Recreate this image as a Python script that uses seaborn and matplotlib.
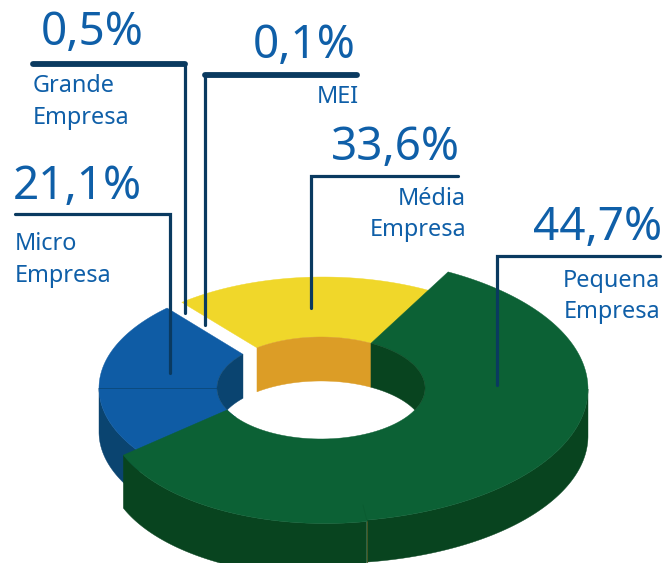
import numpy as np
import pandas as pd
import matplotlib
matplotlib.use("Agg")
import matplotlib.pyplot as plt
import seaborn as sns

# ── Data ───────────────────────────────────────────────────────
categories = ["Grande\nEmpresa", "MEI", "Média\nEmpresa", "Micro\nEmpresa", "Pequena\nEmpresa"]
shares = [0.5, 0.1, 33.6, 21.1, 44.7]

# slice extents as drawn in the picture (it is not to scale), degrees
blue_span = [133.9, 215]
yellow_span = [129.5, 60]
green_span = [61.7, -80.3]

TEXT = "#0f5fa8"
LEADER = "#0a3a60"
BLUE, BLUE_DK = "#0f5ca5", "#0a4470"
YELLOW, ORANGE = "#f0d72a", "#dc9d26"
GREEN, GREEN_DK = "#0c6135", "#08441f"

sns.set_theme(style="white")
plt.rcParams["font.family"] = ["Noto Sans", "DejaVu Sans"]

fig = plt.figure(figsize=(6.66, 5.63), dpi=100)
ax = fig.add_axes([0, 0, 1, 1])


# ── Ellipse helpers ────────────────────────────────────────────
def arc(cx, cy, rx, t0, t1, dy=0):
    t = np.radians(np.linspace(t0, t1, 120))
    return np.column_stack([cx + rx * np.cos(t), cy + dy - rx * 0.5 * np.sin(t)])


def inner(t0, t1, dy=0):
    t = np.radians(np.linspace(t0, t1, 80))
    return np.column_stack([321 + 104 * np.cos(t), 388 + dy - 51 * np.sin(t)])


def fill(color, *parts):
    xy = np.vstack(parts)
    ax.fill(xy[:, 0], xy[:, 1], color=color, lw=0.3, ec=color)


WALL = 44

# ── Blue: Micro ────────────────────────────────────────────────
fill(BLUE_DK, arc(321, 388, 222, 180, blue_span[1]), arc(321, 388, 222, blue_span[1], 180, dy=WALL))
fill(BLUE, arc(321, 388, 222, blue_span[0], blue_span[1]), inner(blue_span[1], 138.6))
fill(BLUE_DK, inner(138.6, 205.5), inner(154.5, 138.6, dy=WALL))
ax.plot([99, 217], [388, 388], color=BLUE_DK, lw=0.5)

# ── Yellow: Media ──────────────────────────────────────────────
fill(YELLOW, arc(323, 388, 222, yellow_span[0], yellow_span[1]), inner(61.3, 128))
fill(ORANGE, inner(128, 61.3), inner(61.3, 128, dy=WALL))

# ── Green: Pequena ─────────────────────────────────────────────
outer_a = arc(322, 389, 266, green_span[0], green_span[1])
outer_b = arc(325, 415, 217, -79, -158.3)
side_a = arc(322, 389, 266, 0, green_span[1])
drop_a = np.column_stack([np.zeros(120), np.linspace(47, 42, 120)])
fill(GREEN_DK, side_a, (side_a + drop_a)[::-1])
fill(GREEN_DK, outer_b, (outer_b + [0, 53])[::-1])
fill(GREEN, outer_a, outer_b, inner(205.5, 421.3))
fill(GREEN_DK, inner(61.3, -25.5), inner(25.5, 61.3, dy=WALL))
ax.plot([367, 367], [521, 563], color="#4f5a22", lw=0.6)
ax.plot([363, 367], [505, 521], color="#0a5a30", lw=0.5)

# ── Leaders ────────────────────────────────────────────────────
leaders = pd.DataFrame({
    "name": ["grande"] * 3 + ["mei"] * 3 + ["media"] * 3 + ["micro"] * 3 + ["pequena"] * 3,
    "x": [33, 185, 185, 357, 205, 205, 458, 311, 311, 15, 170, 170, 660, 497, 497],
    "y": [64, 64, 313, 75, 75, 325, 176, 176, 308, 214, 214, 373, 256, 256, 385],
})
for name, sub in leaders.groupby("name", sort=False):
    sns.lineplot(data=sub, x="x", y="y", sort=False, estimator=None, color=LEADER,
                 lw=2.3, solid_capstyle="round", solid_joinstyle="miter", ax=ax)
    if name in ("grande", "mei"):
        ax.plot(sub["x"].iloc[:2], sub["y"].iloc[:2], color=LEADER, lw=4.2,
                solid_capstyle="round")
ax.set_xlim(0, 666)
ax.set_ylim(563, 0)
ax.axis("off")


# ── Text ───────────────────────────────────────────────────────
def pct(v):
    return f"{v:.1f}%".replace(".", ",")


pct_pos = [(41, 45, "left"), (356, 58, "right"), (460, 160, "right"), (13, 199, "left"), (662, 240, "right")]
name_pos = [(33, 92, "left"), (359, 103, "right"), (466, 205, "right"), (15, 250, "left"), (660, 287, "right")]
for share, cat, (px, py, pha), (nx, ny, nha) in zip(shares, categories, pct_pos, name_pos):
    ax.text(px, py, pct(share), color=TEXT, fontsize=33, fontweight=500, ha=pha, va="baseline")
    for i, line in enumerate(cat.split("\n")):
        ax.text(nx, ny + i * 31.5, line, color=TEXT, fontsize=16.9, fontweight=500, ha=nha, va="baseline")

plt.savefig("out.png", dpi=100)
plt.close()
